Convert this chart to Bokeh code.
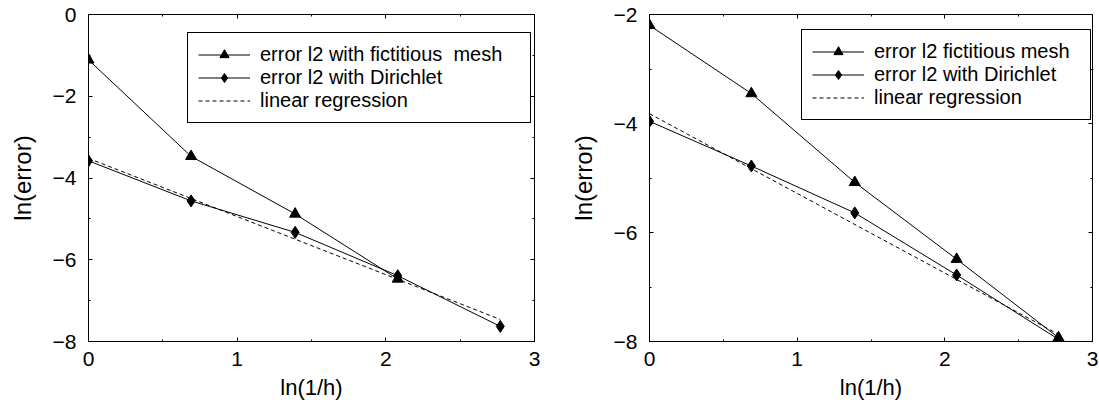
from bokeh.plotting import figure
from bokeh.layouts import row
from bokeh.models import (FixedTicker, LinearAxis, Legend, LegendItem, Range1d,
                          CustomJSTickFormatter)
from bokeh.embed import file_html
from bokeh.resources import INLINE

# ---------------- data ----------------
# left panel
x_left_fict = [0.0, 0.69, 1.39, 2.08]
err_fict_left = [-1.11, -3.47, -4.88, -6.47]
x_left_dir = [0.0, 0.69, 1.39, 2.08, 2.77]
err_dir_left = [-3.58, -4.56, -5.33, -6.39, -7.63]
x_left_reg = [0.0, 2.77]
reg_left = [-3.52, -7.46]

# right panel
x_right = [0.0, 0.69, 1.39, 2.08, 2.77]
err_fict_right = [-2.20, -3.45, -5.08, -6.49, -7.93]
err_dir_right = [-3.96, -4.78, -5.64, -6.78, -7.96]
x_right_reg = [0.0, 2.77]
reg_right = [-3.82, -7.87]

# ticks
x_ticks = [0, 1, 2, 3]
x_minor = [0.5, 1.5, 2.5]
left_y_ticks = [-8, -6, -4, -2, 0]
left_y_minor = [-7, -5, -3, -1]
right_y_ticks = [-8, -6, -4, -2]
right_y_minor = [-7, -5, -3]

labels_left = ["error l2 with fictitious  mesh", "error l2 with Dirichlet", "linear regression"]
labels_right = ["error l2 fictitious mesh", "error l2 with Dirichlet", "linear regression"]

FONT = "Liberation Sans"


def style_axis(ax, ticks, minor, show_labels=True):
    ax.ticker = FixedTicker(ticks=ticks, minor_ticks=minor)
    ax.major_tick_in = 4
    ax.major_tick_out = 0
    ax.minor_tick_in = 2
    ax.minor_tick_out = 0
    ax.axis_line_color = "black"
    ax.major_tick_line_color = "black"
    ax.minor_tick_line_color = "black"
    ax.major_label_text_font = FONT
    ax.major_label_text_font_size = "21px"
    ax.major_label_text_color = "black"
    ax.axis_label_text_font = FONT
    ax.axis_label_text_font_style = "normal"
    ax.axis_label_text_color = "black"
    if not show_labels:
        ax.formatter = CustomJSTickFormatter(code="return ''")
        ax.major_label_standoff = 0


def panel(width, bl, br, ylo, yhi, yt, ym, xf, yf, xd, yd, xr, yr, labels, loc, lw):
    p = figure(width=width, height=407, x_range=Range1d(0, 3), y_range=Range1d(ylo, yhi),
               output_backend="svg", toolbar_location=None,
               min_border_left=bl, min_border_right=br, min_border_top=14, min_border_bottom=66,
               x_axis_label="ln(1/h)", y_axis_label="ln(error)")
    p.grid.visible = False
    p.outline_line_color = "black"
    p.outline_line_width = 1
    p.background_fill_color = "white"
    p.border_fill_color = "white"

    style_axis(p.xaxis[0], x_ticks, x_minor)
    style_axis(p.yaxis[0], yt, ym)
    p.xaxis[0].major_label_standoff = 10
    p.xaxis[0].axis_label_standoff = 6
    p.xaxis[0].axis_label_text_font_size = "22px"
    p.yaxis[0].major_label_standoff = 12
    p.yaxis[0].axis_label_standoff = 14
    p.yaxis[0].axis_label_text_font_size = "24px"

    top = LinearAxis()
    style_axis(top, x_ticks, x_minor, show_labels=False)
    p.add_layout(top, "above")
    right = LinearAxis()
    style_axis(right, yt, ym, show_labels=False)
    p.add_layout(right, "right")

    l1 = p.line(xf, yf, line_color="black", line_width=1)
    s1 = p.scatter(xf, yf, marker="triangle", size=11, fill_color="black", line_color="black")
    l2 = p.line(xd, yd, line_color="black", line_width=1)
    s2 = p.scatter(xd, yd, marker="diamond", size=12, fill_color="black", line_color="black")
    l3 = p.line(xr, yr, line_color="black", line_width=1, line_dash="4 3")

    legend = Legend(items=[LegendItem(label=labels[0], renderers=[l1, s1]),
                           LegendItem(label=labels[1], renderers=[l2, s2]),
                           LegendItem(label=labels[2], renderers=[l3])],
                    location=loc, glyph_width=52, glyph_height=23, label_height=23,
                    label_width=lw, label_standoff=10, padding=10, spacing=0, margin=0,
                    border_line_color="black", border_line_width=1, border_line_alpha=1,
                    background_fill_color="white", background_fill_alpha=1,
                    label_text_font=FONT, label_text_font_size="20px", label_text_color="black")
    p.add_layout(legend)
    return p


p1 = panel(556, 88, 22, -8, 0, left_y_ticks, left_y_minor,
           x_left_fict, err_fict_left, x_left_dir, err_dir_left, x_left_reg, reg_left,
           labels_left, (99, 218), 260)
p2 = panel(543, 93, 7, -8, -2, right_y_ticks, right_y_minor,
           x_right, err_fict_right, x_right, err_dir_right, x_right_reg, reg_right,
           labels_right, (152, 221), 206)

layout = row(p1, p2)
open("out.html", "w").write(file_html(layout, INLINE))
